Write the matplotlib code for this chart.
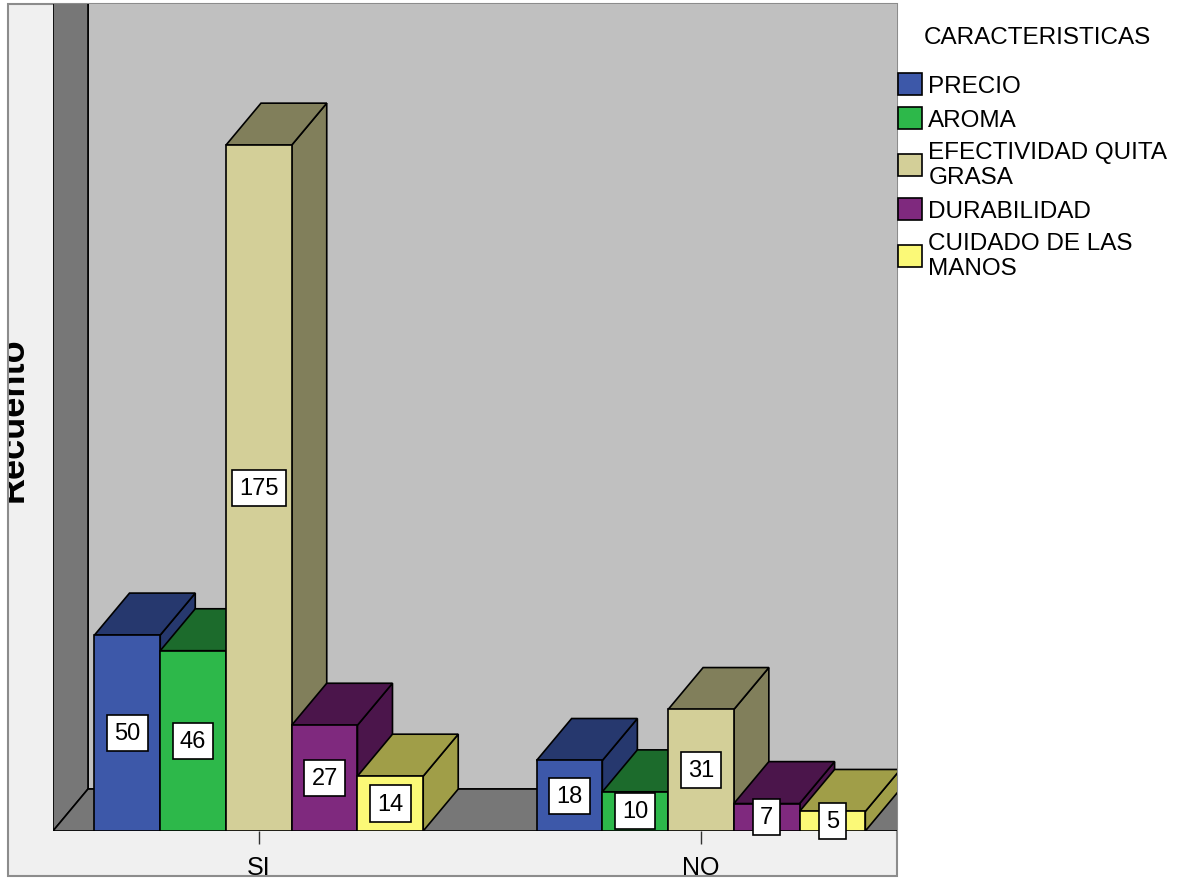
import matplotlib
matplotlib.use("Agg")
import matplotlib.pyplot as plt
from matplotlib.patches import Rectangle, Polygon, Patch
from matplotlib.transforms import Bbox, TransformedBbox

plt.rcParams["font.family"] = ["Liberation Sans", "DejaVu Sans"]

# --- data -----------------------------------------------------------------
GROUPS = ["SI", "NO"]
SERIES = ["PRECIO", "AROMA", "EFECTIVIDAD QUITA GRASA", "DURABILIDAD",
          "CUIDADO DE LAS MANOS"]
LEGEND_LABELS = ["PRECIO", "AROMA", "EFECTIVIDAD QUITA\nGRASA", "DURABILIDAD",
                 "CUIDADO DE LAS\nMANOS"]
COUNTS_SI = [50, 46, 175, 27, 14]
COUNTS_NO = [18, 10, 31, 7, 5]
COUNTS = [COUNTS_SI, COUNTS_NO]

FRONT = ["#3d58a9", "#2db84a", "#d3cf98", "#7f297e", "#fbf977"]
SHADE = ["#26386e", "#1c6b2c", "#817f5b", "#4b154b", "#a09e48"]

# --- layout (pixels of a 1181x879 canvas) ---------------------------------
W, H = 1181, 879
fig = plt.figure(figsize=(W / 100, H / 100), dpi=100)

# light grey chart frame
frame = Rectangle((8 / W, 1 - 877 / H), 889 / W, 872 / H, transform=fig.transFigure,
                  facecolor="#f0f0f0", edgecolor="#8c8c8c", lw=1.5, zorder=-5)
fig.add_artist(frame)
frame_clip = TransformedBbox(Bbox.from_extents(9 / W, 1 - 876 / H, 897 / W, 1),
                             fig.transFigure)

ax = fig.add_axes([53 / W, (H - 832) / H, 844 / W, 827 / H])
ax.set_facecolor("none")
YMAX = 211
XMIN, XMAX = -0.4656, 1.4434
ax.set_xlim(XMIN, XMAX)
ax.set_ylim(0, YMAX)
for s in ax.spines.values():
    s.set_visible(False)

BAR_W = 0.1487
DX, DY = 0.0792, 10.7
EDGE = dict(edgecolor="black", lw=1.2)
TOP = YMAX + 20   # walls run past the top so their upper edge is clipped away

# walls and floor
ax.add_patch(Polygon([(XMIN + DX, DY), (XMAX + 0.05, DY), (XMAX + 0.05, TOP), (XMIN + DX, TOP)],
                     facecolor="#c0c0c0", **EDGE))
ax.add_patch(Polygon([(XMIN, 0), (XMIN + DX, DY), (XMIN + DX, TOP), (XMIN, TOP)],
                     facecolor="#777777", **EDGE))
ax.add_patch(Polygon([(XMIN, 0), (XMAX + 0.05, 0), (XMAX + 0.05, DY), (XMIN + DX, DY)],
                     facecolor="#777777", **EDGE))

# 3d bars, drawn left to right so each bar hides the side of the previous one
for g, vals in enumerate(COUNTS):
    for i, v in enumerate(vals):
        x0 = g + (i - 2.5) * BAR_W
        x1 = x0 + BAR_W
        ax.add_patch(Polygon([(x1, 0), (x1 + DX, DY), (x1 + DX, v + DY), (x1, v)],
                             facecolor=SHADE[i], **EDGE))
        ax.add_patch(Polygon([(x0, v), (x0 + DX, v + DY), (x1 + DX, v + DY), (x1, v)],
                             facecolor=SHADE[i], **EDGE))
        ax.add_patch(Rectangle((x0, 0), BAR_W, v, facecolor=FRONT[i], **EDGE))
        ax.text(x0 + BAR_W / 2, v / 2, str(v), ha="center", va="center",
                fontsize=17, zorder=10,
                bbox=dict(boxstyle="square,pad=0.3", fc="white", ec="black", lw=1.2))

ax.set_yticks([])
ax.set_xticks(range(len(GROUPS)))
ax.set_xticklabels(GROUPS, fontsize=18)
ax.tick_params(axis="x", length=9, width=1, color="#333333", pad=8)
for lbl in ax.get_xticklabels():
    lbl.set_clip_box(frame_clip)
    lbl.set_clip_on(True)

# axis title is cut by the frame edge, as in the original export
ylab = fig.text(23 / W, 1 - 420 / H, "Recuento", rotation=90, rotation_mode="anchor",
                ha="center", va="baseline", fontsize=26, fontweight="bold")
ylab.set_clip_box(frame_clip)
ylab.set_clip_on(True)

# legend
fig.text(924 / W, 1 - 38 / H, "CARACTERISTICAS", va="center", fontsize=17.5)
handles = [Patch(facecolor=c, edgecolor="black", lw=1.2) for c in FRONT]
leg = fig.legend(handles, LEGEND_LABELS, loc="upper left",
                 bbox_to_anchor=(898 / W, 1 - 74 / H), frameon=False, fontsize=17.5,
                 handlelength=1.0, handleheight=1.0, handletextpad=0.25,
                 labelspacing=0.4, borderpad=0, borderaxespad=0)
for t in leg.get_texts():
    t.set_linespacing(1.2)

fig.savefig("out.png", dpi=100, facecolor="white")
